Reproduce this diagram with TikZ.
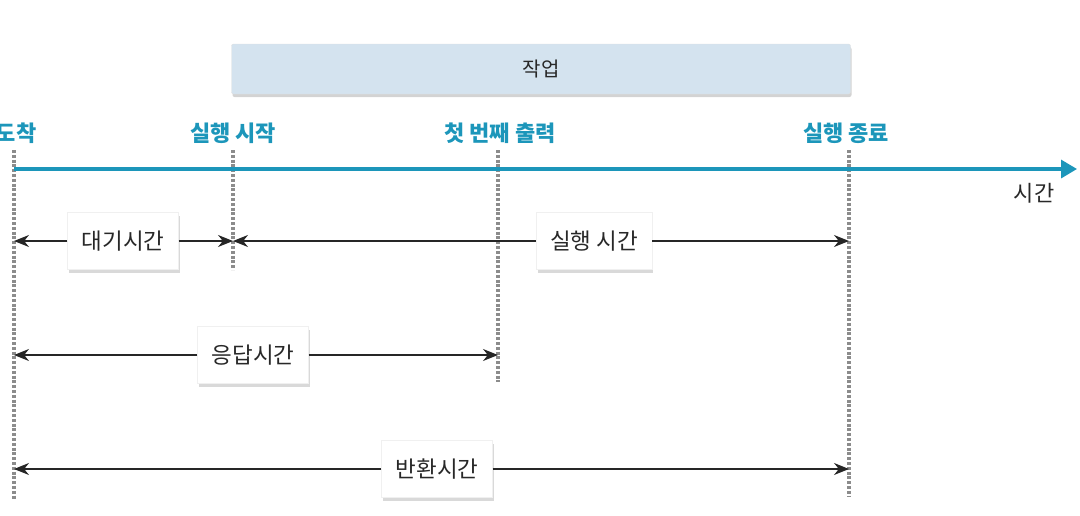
\documentclass[tikz,border=0pt]{standalone}
\usepackage{fontspec}
\setmainfont{Noto Sans CJK KR}
\usetikzlibrary{arrows.meta}
\usetikzlibrary{shadows}
\definecolor{timeblue}{RGB}{28,150,186}
\definecolor{jobfill}{RGB}{212,227,239}
\definecolor{textgray}{RGB}{40,40,40}

\begin{document}
\begin{tikzpicture}[x=1pt,y=-1pt,
		guide/.style={draw=black!45,line width=3.4pt,dash pattern=on 3pt off 1.8pt},
		axis/.style={draw=timeblue,line width=3.4pt,-{Triangle[length=16pt,width=18pt]}},
		eventlabel/.style={text=timeblue,font=\fontsize{22}{26}\selectfont\bfseries},
		spanbox/.style={fill=white,draw=black!6,inner xsep=14pt,minimum height=57pt,
			text=textgray,font=\fontsize{22.5}{26}\selectfont,
			drop shadow={shadow xshift=1.5pt,shadow yshift=-3.5pt,opacity=0.3}},
		span/.style={draw=black!85,line width=1.4pt,-{Stealth[length=15pt,width=12pt]}}]
	\useasboundingbox (0,0) rectangle (1080,515);
	
	% time points
	
	\coordinate (arr) at (14,169);
	\coordinate (start) at (233,169);
	\coordinate (first) at (498,169);
	\coordinate (stop) at (849,169);
	\coordinate (tend) at (1077,169);
	
	\draw[guide] (arr) ++(0,-19) -- (arr |- 0,500);
	\draw[guide] (start) ++(0,-19) -- (start |- 0,270);
	\draw[guide] (first) ++(0,-19) -- (first |- 0,382);
	\draw[guide] (stop) ++(0,-19) -- (stop |- 0,497);
	
	\draw[axis] (arr) -- (tend);
	\node[text=textgray,font=\fontsize{22}{26}\selectfont] (tlabel) at (1034,193) {시간};
	
	\node[eventlabel] (larr) at (16,133) {도착};
	\node[eventlabel] (lstart) at (233,133) {실행 시작};
	\node[eventlabel] (lfirst) at (500,133) {첫 번째 출력};
	\node[eventlabel] (lstop) at (846,133) {실행 종료};
	
	% job
	
	\node[fill=jobfill,draw=black!12,rounded corners=2pt,minimum width=619pt,minimum height=50pt,
		text=textgray,font=\fontsize{20}{24}\selectfont,
		drop shadow={shadow xshift=1pt,shadow yshift=-3pt,opacity=0.35}] (job) at (541,69) {작업};
	
	% spans
	
	\node[spanbox] (wait) at (123,241) {대기시간};
	\draw[span] (wait.west) -- (arr |- wait);
	\draw[span] (wait.east) -- (start |- wait);
	
	\node[spanbox] (run) at (594,241) {실행 시간};
	\draw[span] (run.west) -- (start |- run);
	\draw[span] (run.east) -- (stop |- run);
	
	\node[spanbox] (resp) at (253,355) {응답시간};
	\draw[span] (resp.west) -- (arr |- resp);
	\draw[span] (resp.east) -- (first |- resp);
	
	\node[spanbox] (turn) at (437,469) {반환시간};
	\draw[span] (turn.west) -- (arr |- turn);
	\draw[span] (turn.east) -- (stop |- turn);
\end{tikzpicture}
\end{document}
